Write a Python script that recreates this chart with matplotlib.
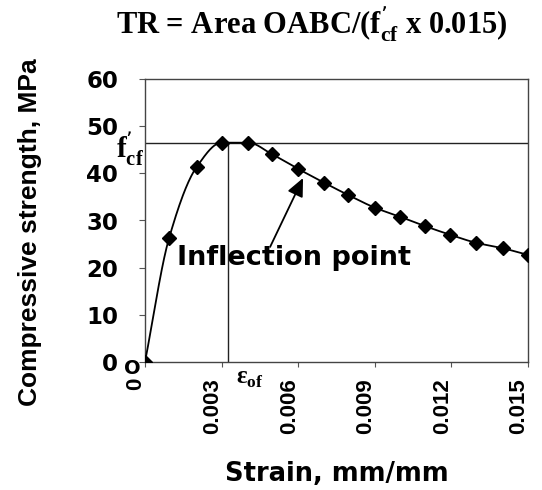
import numpy as np
import matplotlib
matplotlib.use("Agg")
import matplotlib.pyplot as plt
from matplotlib.transforms import ScaledTranslation, blended_transform_factory

# stress-strain points of the fibre concrete specimen
strain = [0.0, 0.00094, 0.00203, 0.0030, 0.00405, 0.00496, 0.00598, 0.00702,
          0.00796, 0.00901, 0.00999, 0.01097, 0.01194, 0.01295, 0.01403, 0.0150]
stress = [0.0, 26.2, 41.4, 46.5, 46.5, 44.1, 41.0, 38.0,
          35.4, 32.7, 30.8, 28.8, 27.0, 25.3, 24.1, 22.7]

fcf = 46.5          # peak compressive strength, MPa
eps_of = 0.00326    # strain at peak
inflection = (0.00619, 39.0)
inflection_tail = (0.0049, 24.4)
inflection_text = (0.00125, 20.5)

xticks = [0, 0.003, 0.006, 0.009, 0.012, 0.015]
xticklabels = ["0", "0.003", "0.006", "0.009", "0.012", "0.015"]
yticks = [0, 10, 20, 30, 40, 50, 60]

SANS_WIDE = "DejaVu Sans"
SANS = "Liberation Sans"
SERIF = "Liberation Serif"


def smooth(xs, ys, n=40):
    # monotone cubic (Fritsch-Carlson) so the peak stays flat
    x = np.asarray(xs, float)
    y = np.asarray(ys, float)
    h = np.diff(x)
    d = np.diff(y) / h
    m = np.zeros_like(y)
    m[0], m[-1] = d[0], d[-1]
    for i in range(1, len(x) - 1):
        if d[i - 1] * d[i] <= 0:
            m[i] = 0.0
        else:
            w1 = 2 * h[i] + h[i - 1]
            w2 = h[i] + 2 * h[i - 1]
            m[i] = (w1 + w2) / (w1 / d[i - 1] + w2 / d[i])
    px, py = [], []
    for i in range(len(x) - 1):
        t = np.linspace(0, 1, n, endpoint=False)
        h00 = 2 * t ** 3 - 3 * t ** 2 + 1
        h10 = t ** 3 - 2 * t ** 2 + t
        h01 = -2 * t ** 3 + 3 * t ** 2
        h11 = t ** 3 - t ** 2
        px.append(x[i] + t * h[i])
        py.append(h00 * y[i] + h10 * h[i] * m[i] + h01 * y[i + 1] + h11 * h[i] * m[i + 1])
    px.append([x[-1]])
    py.append([y[-1]])
    return np.concatenate(px), np.concatenate(py)


fig = plt.figure(figsize=(5.42, 4.90), dpi=100)
ax = fig.add_axes([0.2675, 0.2612, 0.7067, 0.5776])

sx, sy = smooth(strain, stress)
ax.plot(sx, sy, color="black", lw=1.3, zorder=3)
ax.plot(strain, stress, linestyle="none", marker="D", markersize=7.5,
        color="black", zorder=4)

# peak stress and strain guides
ax.axhline(fcf, color="#222222", lw=1.0, zorder=2)
ax.plot([eps_of, eps_of], [0, fcf], color="#222222", lw=1.0, zorder=2)

ax.set_xlim(0, 0.015)
ax.set_ylim(0, 60)
ax.set_xticks(xticks)
ax.set_xticklabels(xticklabels, rotation=90, va="top", ha="center",
                   fontfamily=SANS, fontweight="bold", fontsize=16)
ax.set_yticks(yticks)
ax.set_yticklabels([str(v) for v in yticks], fontfamily=SANS_WIDE,
                   fontweight="bold", fontsize=16.5)
ax.tick_params(axis="x", direction="out", length=3.6, width=0.8, pad=8,
               color="#555555")
ax.tick_params(axis="y", direction="out", length=4.3, width=0.8, pad=15,
               color="#555555")
shift = ScaledTranslation(-9 / 100, 0, fig.dpi_scale_trans)
for lab in ax.get_xticklabels():
    lab.set_transform(lab.get_transform() + shift)

for sp in ax.spines.values():
    sp.set_color("#444444")
    sp.set_linewidth(1.0)

ax.set_xlabel("Strain, mm/mm", fontfamily=SANS_WIDE, fontweight="bold",
              fontsize=18.5)
ax.xaxis.set_label_coords(0.5, -0.35)
ax.set_ylabel("Compressive strength, MPa", fontfamily=SANS, fontweight="bold",
              fontsize=19)
ax.yaxis.set_label_coords(-0.268, 0.46)

fig.text(0.576, 0.952, r"TR = Area OABC/(f$^{\mathregular{’}}_{\mathregular{cf}}$ x 0.015)",
         ha="center", va="center", fontfamily=SERIF, fontweight="bold",
         fontsize=22)

trans = blended_transform_factory(ax.transAxes, ax.transData)
ax.text(-0.003, fcf - 1.4, r"f$^{\mathregular{’}}_{\mathregular{cf}}$", transform=trans,
        ha="right", va="center", fontfamily=SERIF, fontweight="bold", fontsize=21,
        clip_on=False)

ax.annotate("O", xy=(0, 0), xytext=(-13, -6), textcoords="offset pixels",
            ha="center", va="center", fontfamily=SANS_WIDE, fontweight="bold",
            fontsize=14, annotation_clip=False)
ax.annotate(r"ε$_{\mathregular{of}}$", xy=(eps_of, 0), xytext=(8, -5),
            textcoords="offset pixels", ha="left", va="top", fontfamily=SERIF,
            fontweight="bold", fontsize=18, annotation_clip=False)

ax.annotate("", xy=inflection, xytext=inflection_tail,
            arrowprops=dict(arrowstyle="-|>,head_length=1.1,head_width=0.5",
                            mutation_scale=10, lw=1.3, color="black",
                            shrinkA=0, shrinkB=0), zorder=5)
ax.text(inflection_text[0], inflection_text[1], "Inflection point",
        fontfamily=SANS_WIDE, fontweight="bold", fontsize=19.5,
        ha="left", va="baseline", zorder=5)

fig.savefig("out.png", dpi=100)
